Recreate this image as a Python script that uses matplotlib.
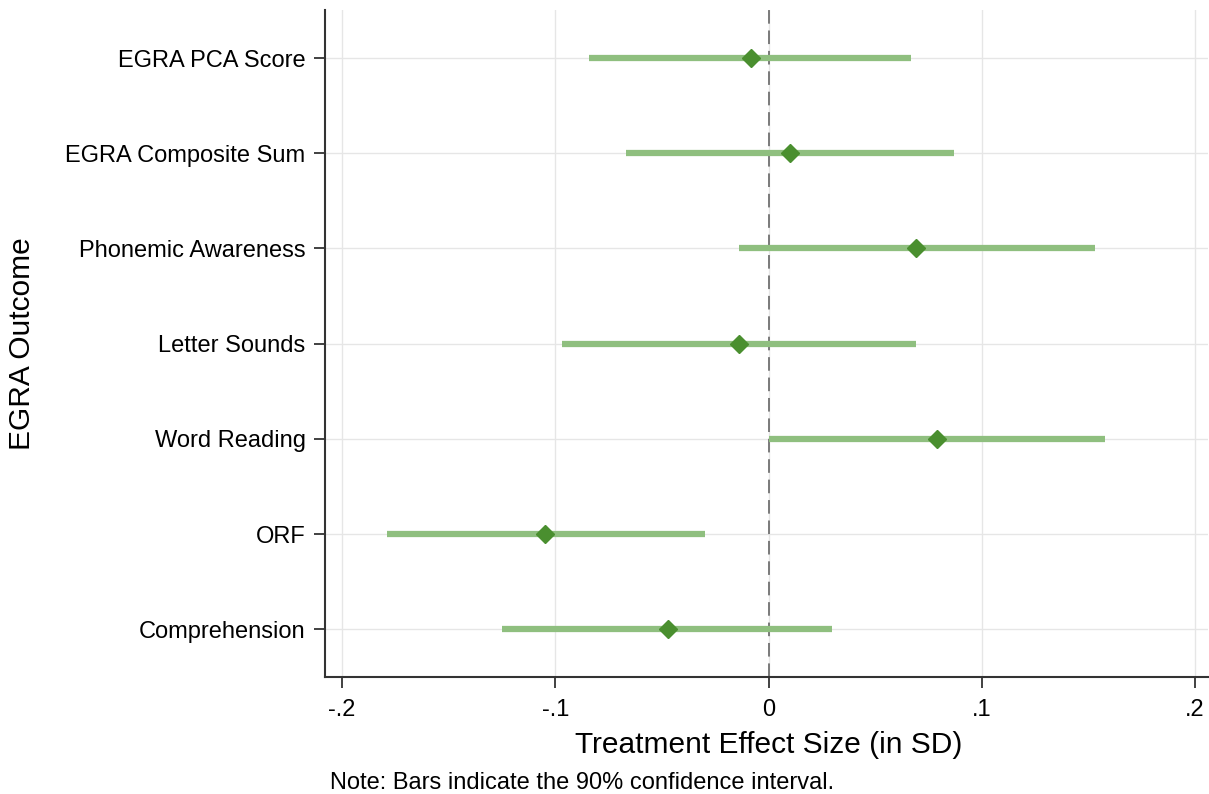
import matplotlib.pyplot as plt

plt.rcParams['font.family'] = ['Liberation Sans', 'DejaVu Sans']

outcomes = ["EGRA PCA Score", "EGRA Composite Sum", "Phonemic Awareness",
            "Letter Sounds", "Word Reading", "ORF", "Comprehension"]
effect = [-0.008, 0.010, 0.069, -0.014, 0.079, -0.105, -0.047]
ci_low = [-0.084, -0.067, -0.014, -0.097, 0.000, -0.179, -0.125]
ci_high = [0.067, 0.087, 0.153, 0.069, 0.158, -0.030, 0.030]
xticks = [-0.2, -0.1, 0, 0.1, 0.2]
xticklabels = ["-.2", "-.1", "0", ".1", ".2"]

W, H = 1209, 794
fig = plt.figure(figsize=(W / 100, H / 100), dpi=100)
ax_w, ax_h = 0.7302, 0.8395
ax = fig.add_axes([0.2688, 0.1474, ax_w, ax_h])

ypos = list(range(1, len(outcomes) + 1))

# reference line at zero
ax.axvline(0, color='#7a7a7a', linestyle=(0, (7, 3.5)), linewidth=1.4, zorder=2)
# confidence intervals and point estimates
ax.hlines(ypos, ci_low, ci_high, color='#8fbf7f', linewidth=4.5, zorder=3)
ax.plot(effect, ypos, 'D', color='#4a8f2f', markersize=9, linestyle='none', zorder=4)

ax.set_ylim(7.5, 0.5)
ax.set_xlim(-0.208, 0.206)
ax.set_yticks(ypos)
ax.set_yticklabels(outcomes, fontsize=17)
ax.set_xticks(xticks)
ax.set_xticklabels(xticklabels, fontsize=17)

ax.grid(True, color='#e6e6e6', linewidth=1)
ax.set_axisbelow(True)
for s in ['top', 'right']:
    ax.spines[s].set_visible(False)
for s in ['left', 'bottom']:
    ax.spines[s].set_color('#333333')
    ax.spines[s].set_linewidth(1.5)
ax.tick_params(axis='both', length=8, width=1.3, color='#333333')
ax.tick_params(axis='x', pad=8)
ax.tick_params(axis='y', pad=6)

ax.set_xlabel("Treatment Effect Size (in SD)", fontsize=21.5)
ax.set_ylabel("EGRA Outcome", fontsize=21.5)
ax.xaxis.set_label_coords((769 - 325) / (ax_w * W), -(745 - 677) / (ax_h * H))
ax.yaxis.set_label_coords(-(325 - 22) / (ax_w * W), 0.5)
ax.xaxis.label.set_va('center')
ax.yaxis.label.set_va('center')

fig.text(0.2729, 0.006, "Note: Bars indicate the 90% confidence interval.", fontsize=17)

fig.savefig("out.png", dpi=100)
